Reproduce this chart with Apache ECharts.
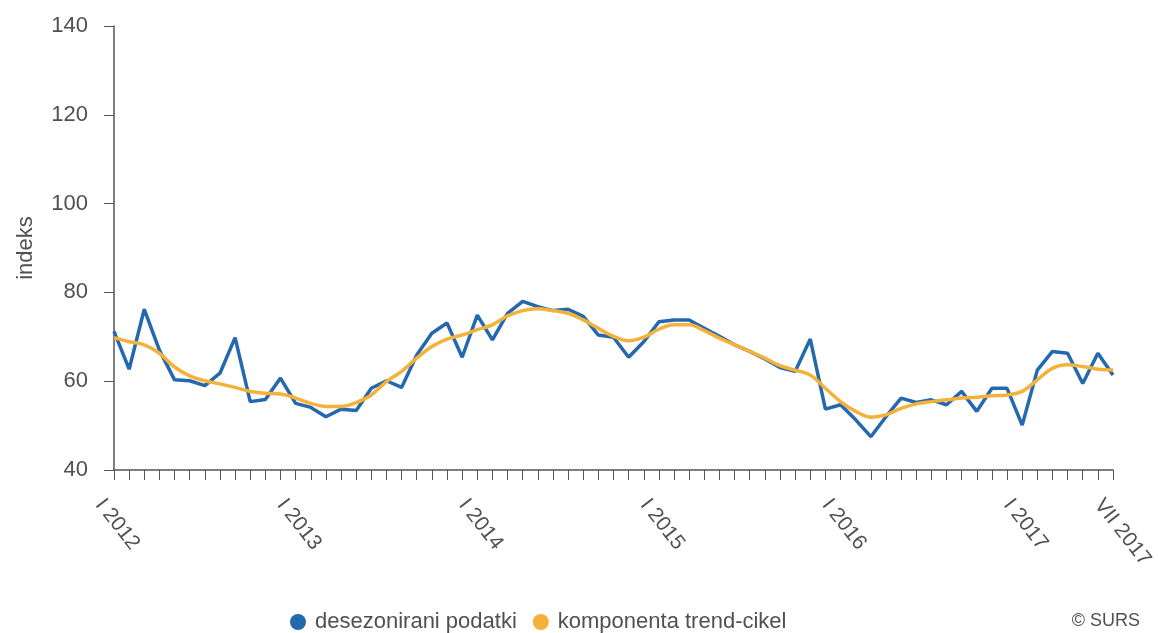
<!DOCTYPE html>
<html>
<head>
<meta charset="utf-8">
<script src="https://cdn.jsdelivr.net/npm/echarts@6/dist/echarts.min.js"></script>
<style>html,body{margin:0;padding:0;background:#fff}#c{width:1158px;height:633px}</style>
</head>
<body>
<div id="c"></div>
<script>
var romans = ['I','II','III','IV','V','VI','VII','VIII','IX','X','XI','XII'];
var years = [2012, 2013, 2014, 2015, 2016, 2017];
var lastYearMonths = 7;

var seasonallyAdjusted = [
  71.2, 62.7, 76.2, 67.0, 60.3, 60.1, 59.0, 61.8, 69.8, 55.4, 55.9, 60.7,
  55.0, 54.1, 52.0, 53.7, 53.4, 58.4, 60.1, 58.6, 65.9, 70.8, 73.1, 65.4,
  74.9, 69.3, 75.3, 78.0, 76.8, 75.9, 76.2, 74.6, 70.4, 69.9, 65.4, 68.9,
  73.4, 73.8, 73.8, 71.9, 70.1, 68.2, 66.7, 65.0, 63.1, 62.2, 69.5, 53.7,
  54.7, 51.3, 47.5, 52.0, 56.2, 55.2, 55.8, 54.7, 57.7, 53.2, 58.4, 58.4,
  50.1, 62.5, 66.7, 66.3, 59.5, 66.3, 61.4
];
var trendCycle = [
  69.8, 68.9, 68.2, 66.3, 63.2, 61.2, 60.1, 59.4, 58.6, 57.7, 57.3, 57.1,
  56.2, 55.0, 54.3, 54.3, 55.2, 56.9, 59.9, 62.2, 65.2, 67.8, 69.5, 70.4,
  71.6, 72.7, 74.7, 75.9, 76.3, 75.9, 75.3, 73.8, 71.9, 70.1, 69.1, 69.9,
  71.7, 72.7, 72.7, 71.4, 69.7, 68.2, 66.7, 65.2, 63.5, 62.5, 61.4, 58.4,
  55.4, 53.2, 51.9, 52.4, 53.9, 54.9, 55.4, 55.8, 56.2, 56.4, 56.7, 56.9,
  57.7, 60.3, 62.9, 63.7, 63.3, 62.7, 62.5
];
var seriesNames = ['desezonirani podatki', 'komponenta trend-cikel'];
var yTicks = [40, 60, 80, 100, 120, 140];

var categories = [];
years.forEach(function (y, yi) {
  var n = (yi === years.length - 1) ? lastYearMonths : 12;
  for (var m = 0; m < n; m++) categories.push(romans[m] + ' ' + y);
});
var lastIdx = categories.length - 1;

var font = '"Liberation Sans", Arial, sans-serif';
var textColor = '#505050';
var chart = echarts.init(document.getElementById('c'));
chart.setOption({
  animation: false,
  backgroundColor: '#fff',
  grid: { left: 114, right: 45, top: 26, bottom: 163, containLabel: false },
  xAxis: {
    type: 'category',
    data: categories,
    boundaryGap: false,
    axisLine: { lineStyle: { color: '#555', width: 1.5 } },
    axisTick: { interval: 0, length: 10, lineStyle: { color: '#555' } },
    axisLabel: {
      interval: function (i) { return i % 12 === 0 || i === lastIdx; },
      rotate: -52,
      margin: 20,
      verticalAlign: 'top',
      padding: [8, 0, 0, 0],
      color: textColor,
      fontSize: 21,
      fontFamily: font
    },
    splitLine: { show: false }
  },
  yAxis: {
    type: 'value',
    min: yTicks[0],
    max: yTicks[yTicks.length - 1],
    interval: 20,
    name: 'indeks',
    nameLocation: 'middle',
    nameGap: 77,
    nameTextStyle: { color: textColor, fontSize: 22, fontFamily: font },
    axisLine: { show: true, lineStyle: { color: '#555', width: 1.5 } },
    axisTick: { show: true, length: 10, lineStyle: { color: '#555' } },
    axisLabel: { color: textColor, fontSize: 22, fontFamily: font, margin: 26 },
    splitLine: { show: false }
  },
  legend: {
    left: 285,
    top: 606,
    icon: 'circle',
    itemWidth: 16,
    itemHeight: 16,
    itemGap: 16,
    textStyle: { color: textColor, fontSize: 22, fontFamily: font, padding: [0, 0, 0, 4] },
    data: seriesNames
  },
  graphic: [{
    type: 'text',
    right: 18,
    top: 612,
    style: { text: '© SURS', fill: textColor, font: '18px ' + font }
  }],
  series: [
    {
      name: seriesNames[0],
      type: 'line',
      data: seasonallyAdjusted,
      symbol: 'none',
      itemStyle: { color: '#2468b0' },
      lineStyle: { color: '#2468b0', width: 3.5 },
      z: 2
    },
    {
      name: seriesNames[1],
      type: 'line',
      data: trendCycle,
      symbol: 'none',
      smooth: 0.4,
      itemStyle: { color: '#f4b23a' },
      lineStyle: { color: '#f4b23a', width: 3.5 },
      z: 3
    }
  ]
});
</script>
</body>
</html>
